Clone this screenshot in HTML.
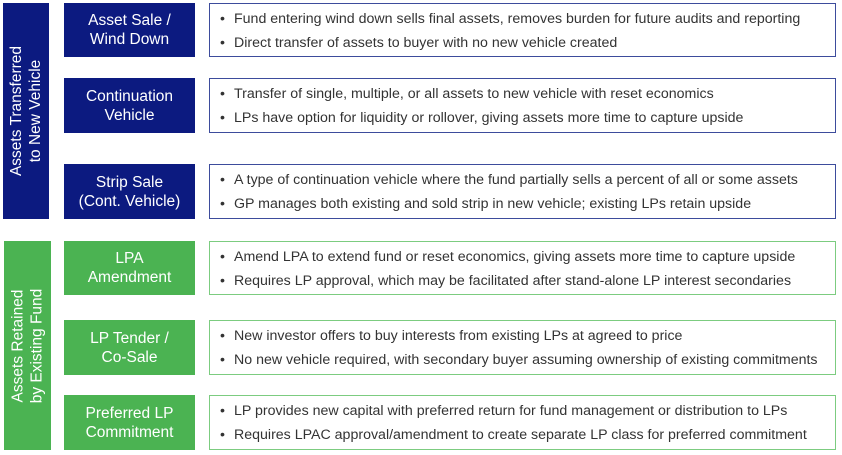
<!DOCTYPE html>
<html><head><style>
body{margin:0;width:842px;height:455px;background:#fff;position:relative;font-family:"Liberation Sans",sans-serif;overflow:hidden}
.side{position:absolute;color:#fff;display:flex;align-items:center;justify-content:center}
.side span{transform:rotate(-90deg);white-space:nowrap;text-align:center;font-size:15.5px;line-height:19px}
.lab{position:absolute;left:64px;width:131px;color:#fff;display:flex;align-items:center;justify-content:center;text-align:center;font-size:15.5px;line-height:19px}
.desc{position:absolute;left:209px;width:627px;box-sizing:border-box;background:#fff;font-size:14.2px;color:#333}
.desc div{position:absolute;left:10px;white-space:nowrap}
.desc div:before{content:"•";position:absolute;left:0}
.desc div span{margin-left:14px}
.b{background:#0c1a80}.g{background:#4bb352}
.db{border:1.3px solid #3d4c9c}.dg{border:1.3px solid #7ccc80}
</style></head><body>
<div class="side b" style="left:3px;top:3px;width:46px;height:216px"><span>Assets Transferred<br>to New Vehicle</span></div>
<div class="side g" style="left:4px;top:241px;width:47px;height:209px"><span>Assets Retained<br>by Existing Fund</span></div>

<div class="lab b" style="top:3px;height:54px">Asset Sale /<br>Wind Down</div>
<div class="lab b" style="top:78px;height:55px">Continuation<br>Vehicle</div>
<div class="lab b" style="top:164px;height:55px">Strip Sale<br>(Cont. Vehicle)</div>
<div class="lab g" style="top:241px;height:54px">LPA<br>Amendment</div>
<div class="lab g" style="top:320px;height:55px">LP Tender /<br>Co-Sale</div>
<div class="lab g" style="top:395px;height:55px">Preferred LP<br>Commitment</div>

<div class="desc db" style="top:3px;height:54px"><div style="top:7px"><span>Fund entering wind down sells final assets, removes burden for future audits and reporting</span></div><div style="top:31px"><span>Direct transfer of assets to buyer with no new vehicle created</span></div></div>
<div class="desc db" style="top:78px;height:55px"><div style="top:7px"><span>Transfer of single, multiple, or all assets to new vehicle with reset economics</span></div><div style="top:31px"><span>LPs have option for liquidity or rollover, giving assets more time to capture upside</span></div></div>
<div class="desc db" style="top:164px;height:55px"><div style="top:7px"><span>A type of continuation vehicle where the fund partially sells a percent of all or some assets</span></div><div style="top:31px"><span>GP manages both existing and sold strip in new vehicle; existing LPs retain upside</span></div></div>
<div class="desc dg" style="top:241px;height:54px"><div style="top:7px"><span>Amend LPA to extend fund or reset economics, giving assets more time to capture upside</span></div><div style="top:31px"><span>Requires LP approval, which may be facilitated after stand-alone LP interest secondaries</span></div></div>
<div class="desc dg" style="top:320px;height:55px"><div style="top:7px"><span>New investor offers to buy interests from existing LPs at agreed to price</span></div><div style="top:31px"><span>No new vehicle required, with secondary buyer assuming ownership of existing commitments</span></div></div>
<div class="desc dg" style="top:395px;height:55px"><div style="top:7px"><span>LP provides new capital with preferred return for fund management or distribution to LPs</span></div><div style="top:31px"><span>Requires LPAC approval/amendment to create separate LP class for preferred commitment</span></div></div>
</body></html>
